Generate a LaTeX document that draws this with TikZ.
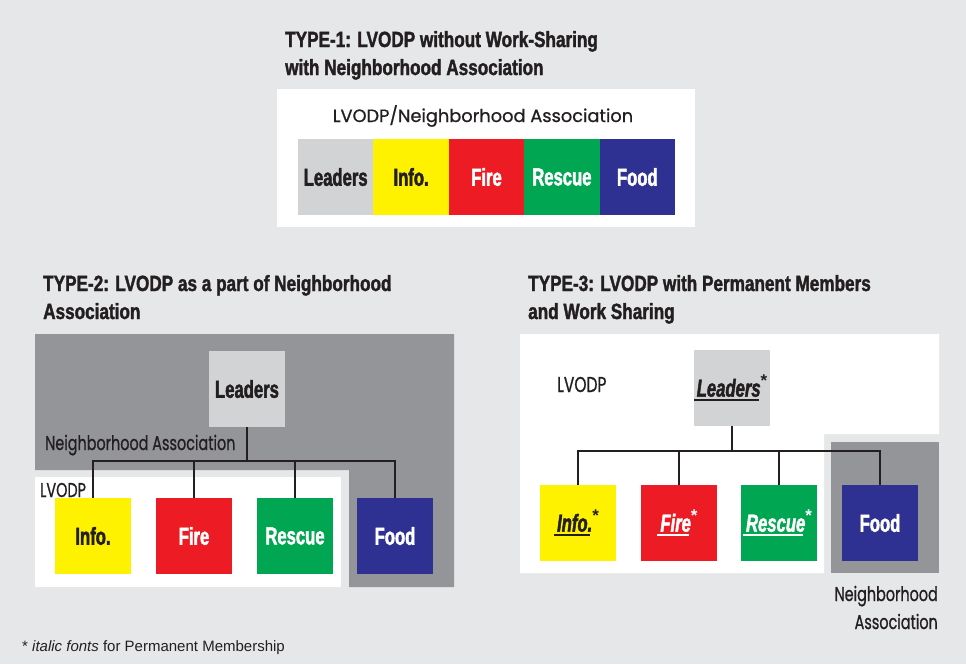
\documentclass[tikz,border=0pt]{standalone}
\usepackage{fontspec}
\setmainfont{Liberation Sans}
\newfontfamily\headfont[FakeStretch=0.78,
  BoldFeatures={FakeBold=1.6}]{Liberation Sans}
\newfontfamily\boxfont[FakeStretch=0.68,
  BoldFeatures={FakeBold=1.8}, BoldItalicFeatures={FakeBold=1.8}]{Liberation Sans}
\newfontfamily\geofont[FakeBold=0.8]{Poppins}
\newfontfamily\geocond[FakeStretch=0.72, FakeBold=0.8]{Poppins}
\newfontfamily\notefont{Liberation Sans}

\definecolor{pagebg}{HTML}{E6E7E8}
\definecolor{assocgray}{HTML}{939598}
\definecolor{leadgray}{HTML}{D1D3D4}
\definecolor{infoyellow}{HTML}{FFF200}
\definecolor{firered}{HTML}{ED1C24}
\definecolor{rescuegreen}{HTML}{00A651}
\definecolor{foodblue}{HTML}{2E3192}
\definecolor{ink}{HTML}{231F20}

% italic, underlined label with an asterisk (permanent members)
\newsavebox\permbox
\newcommand\permlabel[1]{%
  \sbox\permbox{\itshape #1}%
  \rlap{\kern-3pt\raisebox{-4.5pt}{\rule{\dimexpr\wd\permbox+1pt\relax}{1.7pt}}}%
  \usebox\permbox\raisebox{10pt}{\notefont\fontsize{17}{17}\selectfont *}}

\begin{document}
\begin{tikzpicture}[x=1pt,y=-1pt,
  unit/.style={minimum width=76pt, minimum height=76pt, inner sep=0pt,
    font=\boxfont\bfseries\fontsize{24.5}{24.5}\selectfont},
  flat/.style={unit, minimum width=75.4pt},
  heading/.style={anchor=base west, inner sep=0pt, text=ink,
    font=\headfont\bfseries\fontsize{22}{26}\selectfont},
  plain/.style={inner sep=0pt, text=ink, font=\geocond\fontsize{20}{20}\selectfont},
  link/.style={line width=1.6pt, draw=ink}]

% canvas
\fill[pagebg] (0,0) rectangle (966,664);
\useasboundingbox (0,0) rectangle (966,664);

% ---------- TYPE-1 ----------
\node[heading] (t1a) at (285,47) {TYPE-1: LVODP without Work-Sharing};
\node[heading] (t1b) at (285,75) {with Neighborhood Association};
\fill[white] (277,89) rectangle (695,227);
\node[inner sep=0pt, anchor=base, text=ink, font=\geofont\fontsize{17.8}{17.8}\selectfont]
  (t1lab) at (483,122) {LVODP/Neighborhood Association};
\node[flat, fill=leadgray, text=ink] (l1) at (335.7,177) {Leaders};
\node[flat, fill=infoyellow, text=ink] (i1) at (411.1,177) {Info.};
\node[flat, fill=firered, text=white] (f1) at (486.5,177) {Fire};
\node[flat, fill=rescuegreen, text=white] (r1) at (561.9,177) {Rescue};
\node[flat, fill=foodblue, text=white] (d1) at (637.3,177) {Food};

% ---------- TYPE-2 ----------
\node[heading] (t2a) at (43,291) {TYPE-2: LVODP as a part of Neighborhood};
\node[heading] (t2b) at (43,319) {Association};
\fill[assocgray] (35,334) -- (454,334) -- (454,587) -- (349,587)
  -- (349,470) -- (35,470) -- cycle;
\fill[white] (35,477) rectangle (341,587);
\node[plain, anchor=base west] (na2) at (45,450) {Neighborhood Association};
\node[plain, anchor=base west] (lv2) at (40,497) {LVODP};
\node[unit, fill=leadgray, text=ink] (l2) at (247,389) {Leaders};
\node[unit, fill=infoyellow, text=ink] (i2) at (93,536) {Info.};
\node[unit, fill=firered, text=white] (f2) at (194,536) {Fire};
\node[unit, fill=rescuegreen, text=white] (r2) at (295,536) {Rescue};
\node[unit, fill=foodblue, text=white] (d2) at (395,536) {Food};
\coordinate (j2) at (247,461);
\draw[link] (l2.south) -- (j2);
\draw[link] (j2) -| (i2.north);
\draw[link] (j2) -| (f2.north);
\draw[link] (j2) -| (r2.north);
\draw[link] (j2) -| (d2.north);

% ---------- TYPE-3 ----------
\node[heading] (t3a) at (528,291) {TYPE-3: LVODP with Permanent Members};
\node[heading] (t3b) at (528,319) {and Work Sharing};
\fill[white] (520,334) -- (939,334) -- (939,434) -- (824,434)
  -- (824,573) -- (520,573) -- cycle;
\fill[assocgray] (831,442) rectangle (939,573);
\node[plain, anchor=base west, font=\geocond\fontsize{21.5}{21.5}\selectfont]
  (lv3) at (557,392) {LVODP};
\node[plain, anchor=base east] (na3a) at (938,601) {Neighborhood};
\node[plain, anchor=base east] (na3b) at (938,629) {Association};
\node[unit, fill=leadgray, text=ink] (l3) at (732,388) {\permlabel{Leaders}};
\node[unit, fill=infoyellow, text=ink] (i3) at (578,523) {\permlabel{Info.}};
\node[unit, fill=firered, text=white] (f3) at (679,523) {\permlabel{Fire}};
\node[unit, fill=rescuegreen, text=white] (r3) at (779,523) {\permlabel{Rescue}};
\node[unit, fill=foodblue, text=white] (d3) at (880,523) {Food};
\coordinate (j3) at (732,451);
\draw[link] (l3.south) -- (j3);
\draw[link] (j3) -| (i3.north);
\draw[link] (j3) -| (f3.north);
\draw[link] (j3) -| (r3.north);
\draw[link] (j3) -| (d3.north);

% ---------- footnote ----------
\node[inner sep=0pt, anchor=base west, text=ink, font=\notefont\fontsize{15}{15}\selectfont]
  (note) at (22,651) {* \textit{italic fonts} for Permanent Membership};
\end{tikzpicture}
\end{document}
